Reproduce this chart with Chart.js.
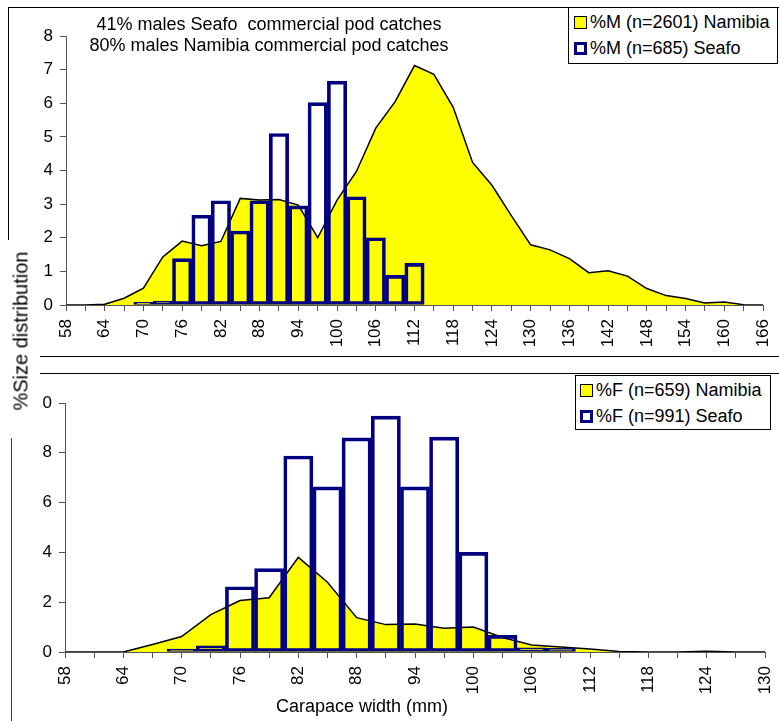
<!DOCTYPE html>
<html>
<head>
<meta charset="utf-8">
<script src="https://cdn.jsdelivr.net/npm/chart.js@4.4.1/dist/chart.umd.min.js"></script>
<style>
  body { margin: 0; background: #fff; }
  #page { position: relative; width: 779px; height: 721px; overflow: hidden;
          font-family: "Liberation Sans", Arial, sans-serif; color: #000; }
  canvas { position: absolute; left: 0; }
  .rule { position: absolute; background: #000; }
  .note { position: absolute; left: 69px; width: 400px; text-align: center;
          font-size: 18px; line-height: 21px; white-space: pre; }
  .ytitle { position: absolute; left: 21px; top: 331px; font-size: 20px; white-space: nowrap;
            transform: translate(-50%, -50%) rotate(-90deg); }
  .xtitle { position: absolute; left: 262px; width: 200px; top: 696px; text-align: center;
            font-size: 18px; line-height: 21px; white-space: nowrap; }
  .legend { position: absolute; box-sizing: border-box; border: 1px solid #000; background: #fff;
            font-size: 18px; padding-top: 1px; }
  .legend .row { height: 26px; display: flex; align-items: center; white-space: nowrap; }
  .legend .swatch { box-sizing: border-box; width: 13px; height: 13px; margin-right: 3px; }
</style>
</head>
<body>
<div id="page">
  <div class="rule" style="left:8px; top:7px; width:780px; height:1px;"></div>
  <div class="rule" style="left:8px; top:7px; width:1px; height:233px;"></div>
  <div class="rule" style="left:40px; top:356px; width:740px; height:1px;"></div>
  <div class="rule" style="left:40px; top:373px; width:740px; height:1px;"></div>
  <div class="rule" style="left:11px; top:438px; width:1px; height:290px; background:#444;"></div>

  <canvas id="males" width="779" height="354" style="top:0px;"></canvas>
  <canvas id="females" width="779" height="347" style="top:374px;"></canvas>

  <div class="note" style="top:14px;">41% males Seafo  commercial pod catches</div>
  <div class="note" style="top:35px;">80% males Namibia commercial pod catches</div>
  <div class="ytitle">%Size distribution</div>
  <div class="xtitle">Carapace width (mm)</div>

  <div class="legend" id="maleLegend" style="left:568px; top:7px; width:210px; height:57px; padding-left:5px;"></div>
  <div class="legend" id="femaleLegend" style="left:575px; top:375px; width:196px; height:55px; padding-left:4px;"></div>
</div>
<script>
// carapace width classes (mm)
const maleWidths = ["58", "61", "64", "67", "70", "73", "76", "79", "82", "85", "88", "91", "94",
  "97", "100", "103", "106", "109", "112", "115", "118", "121", "124", "127", "130", "133",
  "136", "139", "142", "145", "148", "151", "154", "157", "160", "163", "166"];
const maleNamibia = [0, 0, 0.02, 0.2, 0.5, 1.43, 1.9, 1.76, 1.89, 3.17, 3.12, 3.14, 2.97,
  2.0, 3.12, 3.97, 5.26, 6.05, 7.12, 6.86, 5.88, 4.24, 3.56, 2.66, 1.79, 1.64,
  1.38, 0.96, 1.02, 0.86, 0.49, 0.28, 0.19, 0.06, 0.09, 0.01, 0];
const maleSeafo = [null, null, null, null, 0.08, 0.12, 1.38, 2.67, 3.1, 2.2, 3.1, 5.1, 2.95,
  6.02, 6.66, 3.22, 2.0, 0.88, 1.24, null, null, null, null, null, null, null,
  null, null, null, null, null, null, null, null, null, null, null];

const femaleWidths = ["58", "61", "64", "67", "70", "73", "76", "79", "82", "85", "88", "91",
  "94", "97", "100", "103", "106", "109", "112", "115", "118", "121", "124", "127", "130"];
const femaleNamibia = [0, 0, 0, 0.3, 0.62, 1.5, 2.07, 2.18, 3.8, 2.8, 1.38, 1.1,
  1.12, 0.95, 1.0, 0.58, 0.28, 0.2, 0.12, 0.02, 0, 0, 0.03, 0, 0];
const femaleSeafo = [null, null, null, null, 0.12, 0.25, 2.62, 3.35, 7.87, 6.63, 8.6, 9.47,
  6.63, 8.63, 4.0, 0.67, 0.17, 0.15, null, null, null, null, null, null, null];

const maleYTickLabels = ["0", "1", "2", "3", "4", "5", "6", "7", "8"];
const femaleYTickLabels = ["0", "2", "4", "6", "8", "0"];

Chart.defaults.font.family = '"Liberation Sans", Arial, sans-serif';
Chart.defaults.font.size = 17;
Chart.defaults.color = "#000";

function buildChart(canvasId, labels, namibia, seafo, names, yMax, yStep, yLabels, box) {
  return new Chart(document.getElementById(canvasId), {
    type: "bar",
    data: {
      labels: labels,
      datasets: [
        {
          type: "line",
          label: names[0],
          data: namibia,
          fill: "origin",
          backgroundColor: "#ffff00",
          borderColor: "#000000",
          borderWidth: 1.5,
          pointRadius: 0,
          tension: 0,
          order: 1,
        },
        {
          type: "bar",
          label: names[1],
          data: seafo,
          backgroundColor: "rgba(255,255,255,0)",
          borderColor: "#000080",
          borderWidth: 3,
          borderSkipped: false,
          categoryPercentage: 1,
          barPercentage: 1,
          order: 0,
        },
      ],
    },
    options: {
      responsive: false,
      animation: false,
      layout: { padding: { top: box.top, right: box.right, left: 0, bottom: 0 } },
      plugins: { legend: { display: false }, tooltip: { enabled: false } },
      scales: {
        x: {
          offset: false,
          grid: { offset: false, drawOnChartArea: false, tickLength: 6, tickColor: "#555" },
          border: { color: "#555", width: 1 },
          ticks: {
            autoSkip: false,
            minRotation: 90,
            maxRotation: 90,
            padding: 8,
            callback: function (value, index) {
              return index % 2 === 0 ? this.getLabelForValue(value) : "";
            },
          },
          afterFit: (scale) => {
            scale.height = box.xHeight;
            scale.paddingLeft = 0;
            scale.paddingRight = 0;
          },
        },
        y: {
          min: 0,
          max: yMax,
          grid: { drawOnChartArea: false, tickLength: 6, tickColor: "#555" },
          border: { color: "#555", width: 1 },
          ticks: {
            stepSize: yStep,
            padding: 7,
            callback: (value, index) => yLabels[index],
          },
          afterFit: (scale) => {
            scale.width = box.yWidth;
            scale.paddingTop = 0;
            scale.paddingBottom = 0;
          },
        },
      },
    },
  });
}

function fillLegend(elId, chart) {
  const el = document.getElementById(elId);
  chart.data.datasets.forEach((ds) => {
    const row = document.createElement("div");
    row.className = "row";
    const sw = document.createElement("span");
    sw.className = "swatch";
    if (ds.type === "line") {
      sw.style.background = ds.backgroundColor;
      sw.style.border = "1.5px solid " + ds.borderColor;
    } else {
      sw.style.background = "#fff";
      sw.style.border = "3px solid " + ds.borderColor;
    }
    row.appendChild(sw);
    row.appendChild(document.createTextNode(ds.label));
    el.appendChild(row);
  });
}

const maleChart = buildChart("males", maleWidths, maleNamibia, maleSeafo,
  ["%M (n=2601) Namibia", "%M (n=685) Seafo"], 8, 1, maleYTickLabels,
  { top: 36, right: 16, xHeight: 49, yWidth: 66 });
const femaleChart = buildChart("females", femaleWidths, femaleNamibia, femaleSeafo,
  ["%F (n=659) Namibia", "%F (n=991) Seafo"], 10, 2, femaleYTickLabels,
  { top: 29, right: 14, xHeight: 69, yWidth: 65 });

fillLegend("maleLegend", maleChart);
fillLegend("femaleLegend", femaleChart);
</script>
</body>
</html>
